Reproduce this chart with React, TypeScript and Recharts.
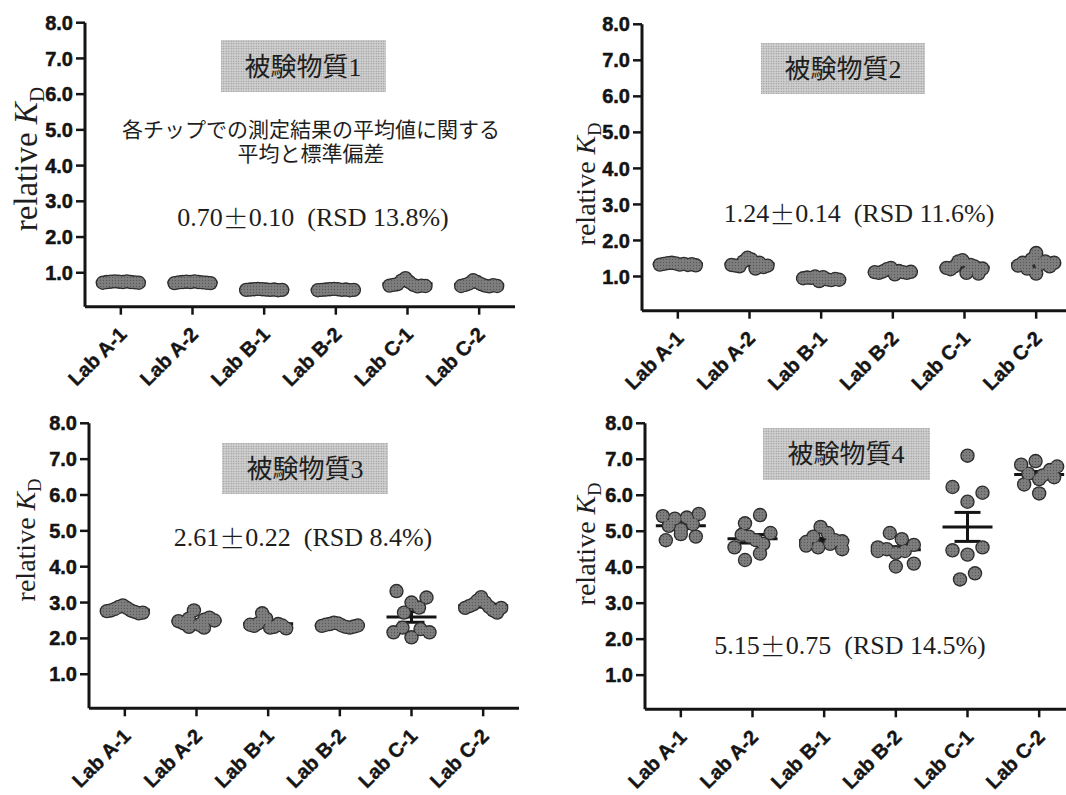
import React from "react";
import { ScatterChart, Scatter, XAxis, YAxis, ErrorBar } from "recharts";

// ---------- data ----------
const categories = ["Lab A-1", "Lab A-2", "Lab B-1", "Lab B-2", "Lab C-1", "Lab C-2"];
const yTicks = [1, 2, 3, 4, 5, 6, 7, 8];
const xTicks = [1, 2, 3, 4, 5, 6];

// 被験物質1
const s1LabA1 = [0.72, 0.74, 0.75, 0.76, 0.75, 0.74, 0.76, 0.74, 0.73, 0.72];
const s1LabA2 = [0.71, 0.73, 0.74, 0.75, 0.74, 0.76, 0.74, 0.73, 0.72, 0.71];
const s1LabB1 = [0.52, 0.53, 0.54, 0.55, 0.54, 0.53, 0.52, 0.53, 0.51, 0.52];
const s1LabB2 = [0.51, 0.52, 0.53, 0.54, 0.55, 0.54, 0.52, 0.53, 0.51, 0.52];
const s1LabC1 = [0.64, 0.66, 0.68, 0.78, 0.85, 0.74, 0.66, 0.62, 0.64, 0.63];
const s1LabC2 = [0.63, 0.66, 0.7, 0.79, 0.74, 0.68, 0.64, 0.62, 0.65, 0.63];

// 被験物質2
const s2LabA1 = [1.33, 1.35, 1.37, 1.38, 1.36, 1.33, 1.35, 1.32, 1.34, 1.31];
const s2LabA2 = [1.32, 1.3, 1.28, 1.42, 1.52, 1.47, 1.22, 1.38, 1.26, 1.3];
const s2LabB1 = [0.95, 0.97, 0.96, 1.0, 0.87, 0.98, 0.92, 0.9, 0.93, 0.91];
const s2LabB2 = [1.12, 1.1, 1.14, 1.2, 1.24, 1.06, 1.15, 1.12, 1.1, 1.13];
const s2LabC1 = [1.24, 1.2, 1.28, 1.42, 1.45, 1.1, 1.32, 1.28, 1.08, 1.22];
const s2LabC2 = [1.3, 1.38, 1.22, 1.48, 1.65, 1.08, 1.35, 1.42, 1.28, 1.38];

// 被験物質3
const s3LabA1 = [2.76, 2.78, 2.82, 2.88, 2.92, 2.85, 2.78, 2.74, 2.7, 2.72];
const s3LabA2 = [2.48, 2.42, 2.32, 2.55, 2.78, 2.38, 2.3, 2.52, 2.58, 2.5];
const s3LabB1 = [2.38, 2.35, 2.42, 2.7, 2.55, 2.3, 2.32, 2.4, 2.36, 2.28];
const s3LabB2 = [2.35, 2.38, 2.4, 2.44, 2.42, 2.36, 2.32, 2.3, 2.33, 2.36];
const s3LabC1 = [3.32, 3.0, 3.14, 2.72, 2.86, 2.17, 2.3, 2.03, 2.26, 2.17];
const s3LabC2 = [2.85, 2.9, 2.95, 3.05, 3.15, 3.0, 2.88, 2.78, 2.72, 2.85];

// 被験物質4
const s4LabA1 = [5.42, 5.15, 4.75, 5.35, 5.05, 4.92, 5.38, 4.85, 5.2, 5.48];
const s4LabA2 = [5.22, 4.55, 4.2, 5.45, 4.9, 4.85, 4.75, 4.65, 4.38, 4.95];
const s4LabB1 = [4.6, 4.7, 4.55, 4.85, 5.12, 4.95, 4.65, 4.75, 4.5, 4.72];
const s4LabB2 = [4.45, 4.5, 4.55, 4.95, 4.78, 4.62, 4.4, 4.02, 4.45, 4.1];
const s4LabC1 = [7.1, 6.23, 5.82, 6.07, 4.47, 4.35, 4.55, 3.66, 3.83];
const s4LabC2 = [6.85, 6.6, 6.3, 6.95, 6.55, 6.05, 6.45, 6.7, 6.8, 6.5];

const substanceTitles = ["被験物質1", "被験物質2", "被験物質3", "被験物質4"];
const statMeans = ["0.70", "1.24", "2.61", "5.15"];
const statSDs = ["0.10", "0.14", "0.22", "0.75"];
const statRSDs = ["(RSD 13.8%)", "(RSD 11.6%)", "(RSD 8.4%)", "(RSD 14.5%)"];
const noteLines = ["各チップでの測定結果の平均値に関する", "平均と標準偏差"];

// ---------- layout ----------
const PLOT_W = 430;
const SANS = "'Liberation Sans', Arial, Helvetica, sans-serif";
const SERIF = "'Liberation Serif', 'Times New Roman', serif";
const CJK = "'Liberation Serif', 'Noto Sans CJK JP', serif";
const INK = "#141414";

const panels = [
  { left: 0, top: 0, width: 533, height: 400, axisX: 85, plotTop: 22.7, plotBottom: 306.7,
    series: [s1LabA1, s1LabA2, s1LabB1, s1LabB2, s1LabC1, s1LabC2] },
  { left: 533, top: 0, width: 545, height: 400, axisX: 642, plotTop: 24.3, plotBottom: 310.7,
    series: [s2LabA1, s2LabA2, s2LabB1, s2LabB2, s2LabC1, s2LabC2] },
  { left: 0, top: 400, width: 533, height: 395, axisX: 89, plotTop: 423.3, plotBottom: 708.3,
    series: [s3LabA1, s3LabA2, s3LabB1, s3LabB2, s3LabC1, s3LabC2] },
  { left: 533, top: 400, width: 548, height: 395, axisX: 645, plotTop: 423.3, plotBottom: 709.3,
    series: [s4LabA1, s4LabA2, s4LabB1, s4LabB2, s4LabC1, s4LabC2] },
];

const annotations = [
  { box: [221, 40, 165, 52], title: [303, 67], stats: [313, 217], yLabel: [37, 159], yLabelSize: 33 },
  { box: [761, 43, 164, 51], title: [843, 69], stats: [859, 213], yLabel: [595, 184], yLabelSize: 28 },
  { box: [222, 443, 166, 51], title: [305, 469], stats: [303, 537], yLabel: [35, 540], yLabelSize: 28 },
  { box: [763, 428, 167, 52], title: [846, 454], stats: [850, 645], yLabel: [595, 544], yLabelSize: 28 },
];

// ---------- helpers ----------
const mean = (a: number[]) => a.reduce((s, v) => s + v, 0) / a.length;
const sem = (a: number[]) => {
  const m = mean(a);
  const sd = Math.sqrt(a.reduce((s, v) => s + (v - m) * (v - m), 0) / (a.length - 1));
  return sd / Math.sqrt(a.length);
};

// beeswarm-like horizontal spreading of the points of one group
function swarm(values: number[], cat: number, unitsPerPx: number, binUnits: number) {
  const order = values.map((_, i) => i).sort((a, b) => values[b] - values[a]);
  const bins: number[][] = [];
  let cur: number[] = [];
  let start = 0;
  for (const i of order) {
    if (cur.length === 0) {
      cur = [i];
      start = values[i];
    } else if (start - values[i] < binUnits) {
      cur.push(i);
    } else {
      bins.push(cur);
      cur = [i];
      start = values[i];
    }
  }
  if (cur.length) bins.push(cur);
  const pts: { x: number; y: number }[] = [];
  for (const b of bins) {
    b.sort((a, c) => a - c);
    const n = b.length;
    const step = n > 1 ? Math.min(15, 36 / (n - 1)) : 0;
    b.forEach((i, k) => pts.push({ x: cat + (k - (n - 1) / 2) * step * unitsPerPx, y: values[i] }));
  }
  return pts;
}

const XTick = (props: any) => {
  const { x, y, payload } = props;
  const label = categories[Math.round(payload.value) - 1];
  const ax = x + 7;
  const ay = y + 19;
  return (
    <text x={ax} y={ay} transform={`rotate(-45 ${ax} ${ay})`} textAnchor="end"
      fontFamily={SANS} fontWeight={700} fontSize={20} fill={INK} stroke={INK} strokeWidth={0.4}>
      {label}
    </text>
  );
};

const DotOutline = (p: any) => <circle cx={p.cx} cy={p.cy} r={7.2} fill="#2c2c2c" />;
const DotFill = (p: any) => <circle cx={p.cx} cy={p.cy} r={5.9} fill="url(#speckle)" />;

const MeanLine = (p: any) => (
  <line x1={p.cx - 25} x2={p.cx + 25} y1={p.cy} y2={p.cy} stroke={INK} strokeWidth={3} />
);

function Panel({ cfg }: { cfg: (typeof panels)[number] }) {
  const yAxisWidth = cfg.axisX - cfg.left;
  const plotRight = cfg.axisX + PLOT_W - cfg.left;
  const marginTop = cfg.plotTop - cfg.top;
  const xAxisHeight = cfg.top + cfg.height - cfg.plotBottom;
  const pxPerUnitY = (cfg.plotBottom - cfg.plotTop) / (8 - 0.05);
  const unitsPerPx = 6 / PLOT_W;
  const binUnits = 16 / pxPerUnitY;

  const points = cfg.series.flatMap((vals, i) => swarm(vals, i + 1, unitsPerPx, binUnits));
  const means = cfg.series.map((vals, i) => ({ x: i + 1, y: mean(vals), err: sem(vals) }));

  return (
    <div style={{ position: "absolute", left: cfg.left, top: cfg.top }}>
      <ScatterChart
        width={cfg.width}
        height={cfg.height}
        margin={{ top: marginTop, right: cfg.width - plotRight, bottom: 0, left: 0 }}
        style={{ overflow: "visible" }}
      >
        <XAxis
          type="number"
          dataKey="x"
          domain={[0.5, 6.5]}
          ticks={xTicks}
          interval={0}
          allowDataOverflow
          height={xAxisHeight}
          tick={<XTick />}
          tickSize={8}
          axisLine={{ stroke: INK, strokeWidth: 3 }}
          tickLine={{ stroke: INK, strokeWidth: 2.5 }}
        />
        <YAxis
          type="number"
          dataKey="y"
          domain={[0.05, 8]}
          ticks={yTicks}
          interval={0}
          allowDataOverflow
          width={yAxisWidth}
          tickFormatter={(v: number) => v.toFixed(1)}
          tick={{ fontFamily: SANS, fontWeight: 700, fontSize: 20, fill: INK, stroke: INK, strokeWidth: 0.5 }}
          tickSize={9}
          tickMargin={3}
          axisLine={{ stroke: INK, strokeWidth: 3 }}
          tickLine={{ stroke: INK, strokeWidth: 2.5 }}
        />
        <Scatter data={means} shape={<MeanLine />} isAnimationActive={false}>
          <ErrorBar dataKey="err" direction="y" width={13} strokeWidth={3} stroke={INK} isAnimationActive={false} />
        </Scatter>
        <Scatter data={points} shape={<DotOutline />} isAnimationActive={false} />
        <Scatter data={points} shape={<DotFill />} isAnimationActive={false} />
      </ScatterChart>
    </div>
  );
}

function Overlay() {
  return (
    <svg width={1066} height={795} style={{ position: "absolute", left: 0, top: 0, pointerEvents: "none" }}>
      {annotations.map((a, i) => (
        <g key={i}>
          <rect x={a.box[0]} y={a.box[1]} width={a.box[2]} height={a.box[3]} fill="url(#halftone)" />
          <text x={a.title[0]} y={a.title[1]} textAnchor="middle" dominantBaseline="central"
            fontFamily={CJK} fontSize={26} fill="#1e1e1e">
            {substanceTitles[i]}
          </text>
          <text x={a.stats[0]} y={a.stats[1]} textAnchor="middle" dominantBaseline="central"
            fontFamily={SERIF} fontSize={26} fill="#1e1e1e" style={{ whiteSpace: "pre" }}>
            <tspan>{statMeans[i]}</tspan>
            <tspan fontFamily="'Noto Sans CJK JP', sans-serif" fontWeight={300}>±</tspan>
            <tspan>{statSDs[i]}</tspan>
            <tspan>{"  " + statRSDs[i]}</tspan>
          </text>
          <text transform={`translate(${a.yLabel[0]} ${a.yLabel[1]}) rotate(-90)`} textAnchor="middle"
            fontFamily={SERIF} fontSize={a.yLabelSize} fill="#1e1e1e">
            <tspan>relative </tspan>
            <tspan fontStyle="italic">K</tspan>
            <tspan fontSize={a.yLabelSize * 0.65} dy={a.yLabelSize * 0.22}>D</tspan>
          </text>
        </g>
      ))}
      <text x={311} y={130} textAnchor="middle" dominantBaseline="central" fontFamily={CJK} fontSize={21} fill="#1e1e1e">
        {noteLines[0]}
      </text>
      <text x={311} y={154} textAnchor="middle" dominantBaseline="central" fontFamily={CJK} fontSize={21} fill="#1e1e1e">
        {noteLines[1]}
      </text>
    </svg>
  );
}

export default function App() {
  return (
    <div style={{ position: "absolute", left: 0, top: 0, width: 1066, height: 795, overflow: "hidden", background: "#fff" }}>
      <svg width={0} height={0} style={{ position: "absolute" }}>
        <defs>
          <pattern id="halftone" width="2.5" height="2.5" patternUnits="userSpaceOnUse">
            <rect width="2.5" height="2.5" fill="#d2d2d2" />
            <circle cx="1.25" cy="1.25" r="0.7" fill="#8e8e8e" />
          </pattern>
          <pattern id="speckle" width="3" height="3" patternUnits="userSpaceOnUse">
            <rect width="3" height="3" fill="#7e7e7e" />
            <circle cx="1.5" cy="1.5" r="0.7" fill="#5a5a5a" />
          </pattern>
        </defs>
      </svg>
      {panels.map((p, i) => (
        <Panel key={i} cfg={p} />
      ))}
      <Overlay />
    </div>
  );
}
